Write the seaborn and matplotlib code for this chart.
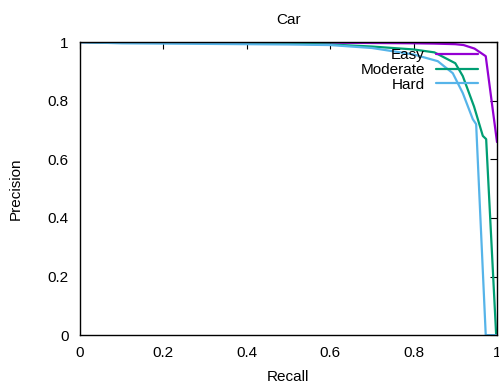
import numpy as np
import pandas as pd
from matplotlib import pyplot as plt
import seaborn as sns

# precision-recall curves
easy_recall = [0, 0.1, 0.2, 0.3, 0.4, 0.5, 0.6, 0.7, 0.8, 0.85, 0.9, 0.92, 0.946, 0.973, 1.0]
easy_prec = [1, 0.999, 0.999, 0.999, 0.999, 0.999, 0.998, 0.997, 0.996, 0.995, 0.993, 0.99, 0.978, 0.952, 0.659]

mod_recall = [0, 0.1, 0.2, 0.3, 0.4, 0.5, 0.6, 0.7, 0.8, 0.85, 0.9, 0.918, 0.945, 0.966, 0.974, 0.998]
mod_prec = [1, 0.998, 0.998, 0.997, 0.997, 0.995, 0.992, 0.985, 0.975, 0.965, 0.928, 0.884, 0.78, 0.68, 0.669, 0]

hard_recall = [0, 0.1, 0.2, 0.3, 0.4, 0.5, 0.6, 0.7, 0.8, 0.858, 0.894, 0.918, 0.942, 0.95, 0.973, 1.0]
hard_prec = [1, 0.996, 0.995, 0.994, 0.993, 0.992, 0.99, 0.98, 0.958, 0.935, 0.894, 0.826, 0.737, 0.72, 0, 0]

names = ["Easy", "Moderate", "Hard"]
colors = ["#9400d3", "#009e73", "#56b4e9"]

df = pd.concat([
    pd.DataFrame({"Recall": easy_recall, "Precision": easy_prec, "level": "Easy"}),
    pd.DataFrame({"Recall": mod_recall, "Precision": mod_prec, "level": "Moderate"}),
    pd.DataFrame({"Recall": hard_recall, "Precision": hard_prec, "level": "Hard"}),
], ignore_index=True)

sns.set_style("white")
plt.rcParams["font.family"] = ["Liberation Sans", "DejaVu Sans"]
plt.rcParams["text.color"] = "black"
plt.rcParams["axes.labelcolor"] = "black"
plt.rcParams["xtick.color"] = "black"
plt.rcParams["ytick.color"] = "black"

fig = plt.figure(figsize=(4.99, 3.83), dpi=100)
ax = fig.add_axes([0.160, 0.125, 0.836, 0.765])

sns.lineplot(data=df, x="Recall", y="Precision", hue="level", hue_order=names,
             palette=colors, sort=False, estimator=None, linewidth=1.6, ax=ax)

ax.set_xlim(0, 1)
ax.set_ylim(0, 1)
ticks = [0, 0.2, 0.4, 0.6, 0.8, 1]
labels = ["0", "0.2", "0.4", "0.6", "0.8", "1"]
ax.set_xticks(ticks)
ax.set_xticklabels(labels)
ax.set_yticks(ticks)
ax.set_yticklabels(labels)
ax.tick_params(direction="in", length=5, width=0.8, top=True, right=True,
               labelsize=11, colors="black")
ax.tick_params(axis="x", pad=8)
ax.tick_params(axis="y", pad=8)
for s in ax.spines.values():
    s.set_color("black")
    s.set_linewidth(1.0)

ax.set_xlabel("Recall", fontsize=11, labelpad=7)
ax.set_ylabel("Precision", fontsize=11, labelpad=18)
ax.set_title("Car", fontsize=11, pad=13)

leg = ax.legend(loc="upper right", bbox_to_anchor=(0.968, 1.0), frameon=False,
                markerfirst=False, fontsize=11, handlelength=2.75,
                labelspacing=0.05, handletextpad=0.7, borderaxespad=0)
for t in leg.get_texts():
    t.set_ha("right")
leg._legend_box.align = "right"

fig.savefig("out.png", dpi=100)
